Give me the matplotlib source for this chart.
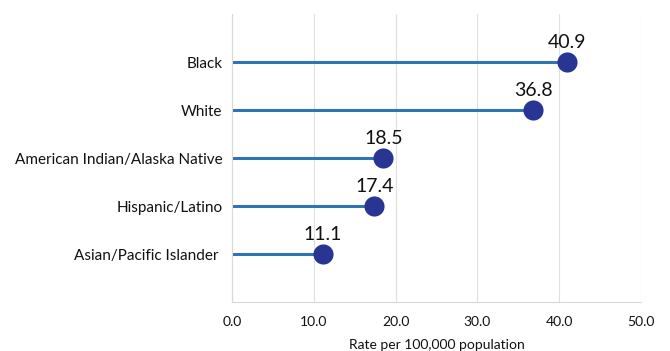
import matplotlib.pyplot as plt

groups = ["Black", "White", "American Indian/Alaska Native", "Hispanic/Latino", "Asian/Pacific Islander "]
rates = [40.9, 36.8, 18.5, 17.4, 11.1]
xticks = [0, 10, 20, 30, 40, 50]

plt.rcParams['font.family'] = ['Lato', 'DejaVu Sans']

fig = plt.figure(figsize=(6.7, 3.51), dpi=100)
ax = fig.add_axes([0.3463, 0.1396, 0.6104, 0.8205])

ypos = list(range(1, len(groups) + 1))
ax.hlines(ypos, 0, rates, color='#2E75B6', linewidth=2.2, zorder=2)
ax.scatter(rates, ypos, s=210, color='#283593', zorder=3, linewidths=0)
for r, y in zip(rates, ypos):
    ax.annotate(f"{r:.1f}", (r, y), xytext=(0, 8), textcoords='offset points',
                ha='center', va='bottom', fontsize=14, color='#111111')

ax.set_xlim(0, 50)
ax.set_ylim(6, 0)
ax.set_xticks(xticks)
ax.set_xticklabels([f"{t:.1f}" for t in xticks], fontsize=10)
ax.set_yticks(ypos)
ax.set_yticklabels(groups, fontsize=11)
ax.tick_params(axis='both', length=0, colors='#111111')
ax.tick_params(axis='x', pad=10)
ax.tick_params(axis='y', pad=7)
ax.grid(axis='x', color='#E0E0E0', linewidth=0.8, zorder=0)
ax.set_axisbelow(True)
for s in ['top', 'right']:
    ax.spines[s].set_visible(False)
for s in ['left', 'bottom']:
    ax.spines[s].set_color('#D9D9D9')
    ax.spines[s].set_linewidth(0.8)
ax.set_xlabel("Rate per 100,000 population", fontsize=10, labelpad=8, color='#111111')

fig.savefig("out.png", dpi=100)
